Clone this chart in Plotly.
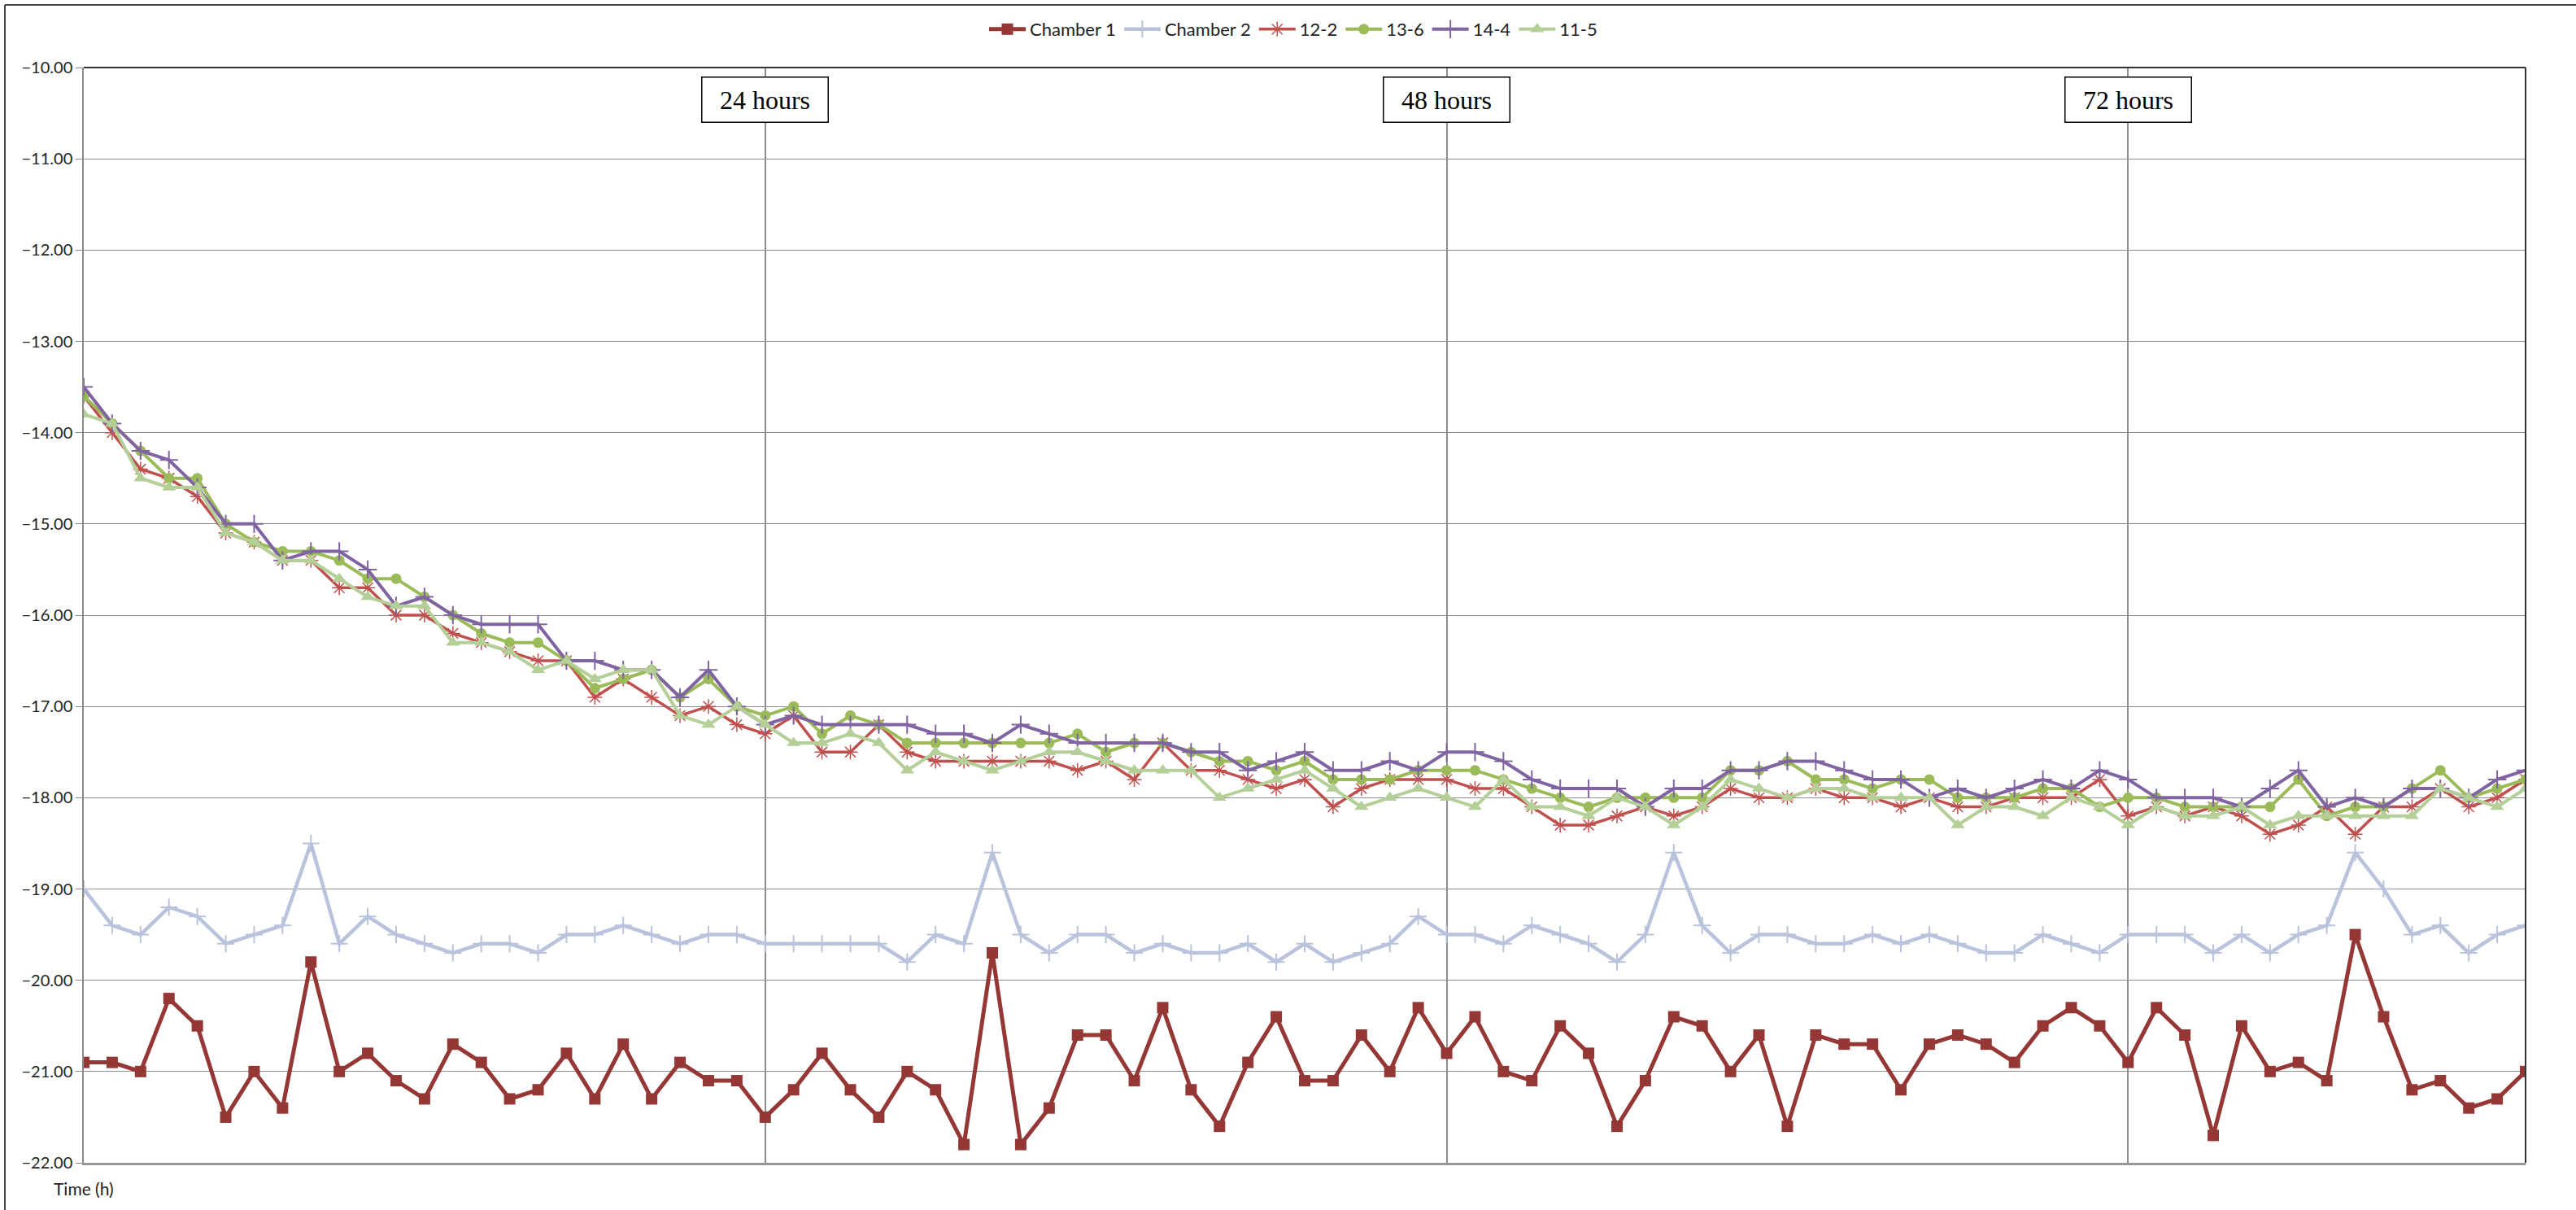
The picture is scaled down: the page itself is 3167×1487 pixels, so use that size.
import plotly.graph_objects as go

# Hourly readings, 0 h to 86 h
hours = list(range(87))

chamber_1 = [
    -20.9, -20.9, -21.0, -20.2, -20.5, -21.5, -21.0, -21.4, -19.8, -21.0,
    -20.8, -21.1, -21.3, -20.7, -20.9, -21.3, -21.2, -20.8, -21.3, -20.7,
    -21.3, -20.9, -21.1, -21.1, -21.5, -21.2, -20.8, -21.2, -21.5, -21.0,
    -21.2, -21.8, -19.7, -21.8, -21.4, -20.6, -20.6, -21.1, -20.3, -21.2,
    -21.6, -20.9, -20.4, -21.1, -21.1, -20.6, -21.0, -20.3, -20.8, -20.4,
    -21.0, -21.1, -20.5, -20.8, -21.6, -21.1, -20.4, -20.5, -21.0, -20.6,
    -21.6, -20.6, -20.7, -20.7, -21.2, -20.7, -20.6, -20.7, -20.9, -20.5,
    -20.3, -20.5, -20.9, -20.3, -20.6, -21.7, -20.5, -21.0, -20.9, -21.1,
    -19.5, -20.4, -21.2, -21.1, -21.4, -21.3, -21.0,
]

chamber_2 = [
    -19.0, -19.4, -19.5, -19.2, -19.3, -19.6, -19.5, -19.4, -18.5, -19.6,
    -19.3, -19.5, -19.6, -19.7, -19.6, -19.6, -19.7, -19.5, -19.5, -19.4,
    -19.5, -19.6, -19.5, -19.5, -19.6, -19.6, -19.6, -19.6, -19.6, -19.8,
    -19.5, -19.6, -18.6, -19.5, -19.7, -19.5, -19.5, -19.7, -19.6, -19.7,
    -19.7, -19.6, -19.8, -19.6, -19.8, -19.7, -19.6, -19.3, -19.5, -19.5,
    -19.6, -19.4, -19.5, -19.6, -19.8, -19.5, -18.6, -19.4, -19.7, -19.5,
    -19.5, -19.6, -19.6, -19.5, -19.6, -19.5, -19.6, -19.7, -19.7, -19.5,
    -19.6, -19.7, -19.5, -19.5, -19.5, -19.7, -19.5, -19.7, -19.5, -19.4,
    -18.6, -19.0, -19.5, -19.4, -19.7, -19.5, -19.4,
]

s_12_2 = [
    -13.6, -14.0, -14.4, -14.5, -14.7, -15.1, -15.2, -15.4, -15.4, -15.7,
    -15.7, -16.0, -16.0, -16.2, -16.3, -16.4, -16.5, -16.5, -16.9, -16.7,
    -16.9, -17.1, -17.0, -17.2, -17.3, -17.1, -17.5, -17.5, -17.2, -17.5,
    -17.6, -17.6, -17.6, -17.6, -17.6, -17.7, -17.6, -17.8, -17.4, -17.7,
    -17.7, -17.8, -17.9, -17.8, -18.1, -17.9, -17.8, -17.8, -17.8, -17.9,
    -17.9, -18.1, -18.3, -18.3, -18.2, -18.1, -18.2, -18.1, -17.9, -18.0,
    -18.0, -17.9, -18.0, -18.0, -18.1, -18.0, -18.1, -18.1, -18.0, -18.0,
    -18.0, -17.8, -18.2, -18.1, -18.2, -18.1, -18.2, -18.4, -18.3, -18.1,
    -18.4, -18.1, -18.1, -17.9, -18.1, -18.0, -17.8,
]

s_13_6 = [
    -13.6, -13.9, -14.2, -14.5, -14.5, -15.0, -15.2, -15.3, -15.3, -15.4,
    -15.6, -15.6, -15.8, -16.0, -16.2, -16.3, -16.3, -16.5, -16.8, -16.7,
    -16.6, -16.9, -16.7, -17.0, -17.1, -17.0, -17.3, -17.1, -17.2, -17.4,
    -17.4, -17.4, -17.4, -17.4, -17.4, -17.3, -17.5, -17.4, -17.4, -17.5,
    -17.6, -17.6, -17.7, -17.6, -17.8, -17.8, -17.8, -17.7, -17.7, -17.7,
    -17.8, -17.9, -18.0, -18.1, -18.0, -18.0, -18.0, -18.0, -17.7, -17.7,
    -17.6, -17.8, -17.8, -17.9, -17.8, -17.8, -18.0, -18.0, -18.0, -17.9,
    -17.9, -18.1, -18.0, -18.0, -18.1, -18.1, -18.1, -18.1, -17.8, -18.2,
    -18.1, -18.1, -17.9, -17.7, -18.0, -17.9, -17.8,
]

s_14_4 = [
    -13.5, -13.9, -14.2, -14.3, -14.6, -15.0, -15.0, -15.4, -15.3, -15.3,
    -15.5, -15.9, -15.8, -16.0, -16.1, -16.1, -16.1, -16.5, -16.5, -16.6,
    -16.6, -16.9, -16.6, -17.0, -17.2, -17.1, -17.2, -17.2, -17.2, -17.2,
    -17.3, -17.3, -17.4, -17.2, -17.3, -17.4, -17.4, -17.4, -17.4, -17.5,
    -17.5, -17.7, -17.6, -17.5, -17.7, -17.7, -17.6, -17.7, -17.5, -17.5,
    -17.6, -17.8, -17.9, -17.9, -17.9, -18.1, -17.9, -17.9, -17.7, -17.7,
    -17.6, -17.6, -17.7, -17.8, -17.8, -18.0, -17.9, -18.0, -17.9, -17.8,
    -17.9, -17.7, -17.8, -18.0, -18.0, -18.0, -18.1, -17.9, -17.7, -18.1,
    -18.0, -18.1, -17.9, -17.9, -18.0, -17.8, -17.7,
]

s_11_5 = [
    -13.8, -13.9, -14.5, -14.6, -14.6, -15.1, -15.2, -15.4, -15.4, -15.6,
    -15.8, -15.9, -15.9, -16.3, -16.3, -16.4, -16.6, -16.5, -16.7, -16.6,
    -16.6, -17.1, -17.2, -17.0, -17.2, -17.4, -17.4, -17.3, -17.4, -17.7,
    -17.5, -17.6, -17.7, -17.6, -17.5, -17.5, -17.6, -17.7, -17.7, -17.7,
    -18.0, -17.9, -17.8, -17.7, -17.9, -18.1, -18.0, -17.9, -18.0, -18.1,
    -17.8, -18.1, -18.1, -18.2, -18.0, -18.1, -18.3, -18.1, -17.8, -17.9,
    -18.0, -17.9, -17.9, -18.0, -18.0, -18.0, -18.3, -18.1, -18.1, -18.2,
    -18.0, -18.1, -18.3, -18.1, -18.2, -18.2, -18.1, -18.3, -18.2, -18.2,
    -18.2, -18.2, -18.2, -17.9, -18.0, -18.1, -17.9,
]

day_marks = [24, 48, 72]
day_labels = ["24 hours", "48 hours", "72 hours"]
y_ticks = [-22 + k for k in range(13)]

UI_FONT = "Lato, 'Open Sans', sans-serif"

series = [
    dict(name="Chamber 1", y=chamber_1, color="#953735", width=5,
         marker=dict(symbol="square", size=14, color="#953735")),
    dict(name="Chamber 2", y=chamber_2, color="#B9C3DC", width=4.5,
         marker=dict(symbol="cross-thin-open", size=15,
                     line=dict(color="#B9C3DC", width=2))),
    dict(name="12-2", y=s_12_2, color="#C0504D", width=3.5,
         marker=dict(symbol="asterisk-open", size=15,
                     line=dict(color="#C0504D", width=1.5))),
    dict(name="13-6", y=s_13_6, color="#9BBB59", width=4,
         marker=dict(symbol="circle", size=13, color="#9BBB59")),
    dict(name="14-4", y=s_14_4, color="#8064A2", width=4,
         marker=dict(symbol="cross-thin-open", size=16,
                     line=dict(color="#8064A2", width=2))),
    dict(name="11-5", y=s_11_5, color="#B4CF97", width=4,
         marker=dict(symbol="triangle-up", size=15, color="#B4CF97")),
]

fig = go.Figure()
for s in series:
    fig.add_trace(go.Scatter(
        x=hours, y=s["y"], name=s["name"], mode="lines+markers",
        line=dict(color=s["color"], width=s["width"]),
        marker=s["marker"],
    ))

W, H = 3167, 1487
ML, MR, MT, MB = 103, 62, 83, 58
pw, ph = W - ML - MR, H - MT - MB

annotations = []
for xm, lab in zip(day_marks, day_labels):
    annotations.append(dict(
        x=xm, xref="x", y=1 - (122 - MT) / ph, yref="paper",
        text=lab, showarrow=False, xanchor="center", yanchor="middle",
        font=dict(family="'Liberation Serif', 'Times New Roman', serif",
                  size=32, color="black"),
        bgcolor="white", bordercolor="black", borderwidth=1.5,
        borderpad=2, width=150, height=50,
    ))

annotations.append(dict(
    x=0, xref="paper", y=-(1460 - (H - MB)) / ph, yref="paper",
    text="Time (h)", showarrow=False, xanchor="center", yanchor="middle",
    font=dict(family=UI_FONT, size=21, color="#222222"),
))

shapes = [
    # dark frame along the top and right of the plot area
    dict(type="line", xref="paper", yref="paper", x0=0, x1=1, y0=1, y1=1,
         line=dict(color="#333333", width=2)),
    dict(type="line", xref="paper", yref="paper", x0=1, x1=1, y0=0, y1=1,
         line=dict(color="#333333", width=2)),
    # outer chart border (top and left)
    dict(type="line", xref="paper", yref="paper",
         x0=(6 - ML) / pw, x1=(W - ML) / pw,
         y0=1 + (MT - 6) / ph, y1=1 + (MT - 6) / ph,
         line=dict(color="#444444", width=2)),
    dict(type="line", xref="paper", yref="paper",
         x0=(6 - ML) / pw, x1=(6 - ML) / pw,
         y0=1 + (MT - 6) / ph, y1=-(MB) / ph,
         line=dict(color="#444444", width=2)),
]

fig.update_layout(
    width=W, height=H,
    margin=dict(l=ML, r=MR, t=MT, b=MB, pad=0),
    paper_bgcolor="white", plot_bgcolor="white",
    font=dict(family=UI_FONT, color="#222222"),
    showlegend=True,
    legend=dict(
        orientation="h", x=(1590 - ML) / pw, xanchor="center",
        y=1 + (MT - 36) / ph, yanchor="middle",
        font=dict(family=UI_FONT, size=22, color="#222222"),
        bgcolor="rgba(0,0,0,0)", itemwidth=45,
    ),
    xaxis=dict(
        range=[0, 86], tickvals=day_marks, showticklabels=False,
        showgrid=True, gridcolor="#8E8E8E", gridwidth=1.5,
        showline=True, linecolor="#969696", linewidth=2.5,
        zeroline=False, ticks="",
    ),
    yaxis=dict(
        range=[-22, -10], tickvals=y_ticks, tickformat=".2f",
        showgrid=True, gridcolor="#8E8E8E", gridwidth=1.3,
        showline=True, linecolor="#8A8A8A", linewidth=1.5,
        zeroline=False, ticks="outside", ticklen=8, tickcolor="#8A8A8A",
        tickfont=dict(family=UI_FONT, size=20, color="#222222"),
    ),
    annotations=annotations,
    shapes=shapes,
)

fig.write_html("out.html")
